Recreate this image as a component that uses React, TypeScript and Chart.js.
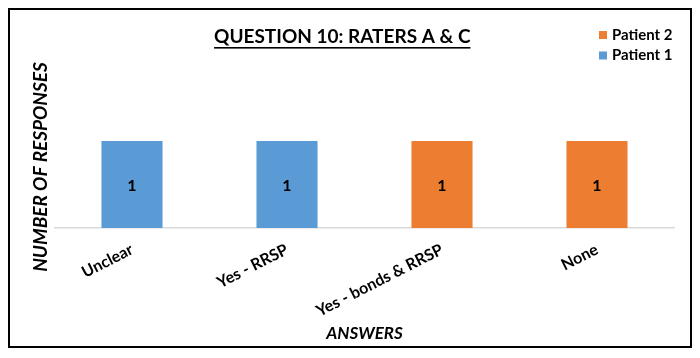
import React, { useEffect, useRef } from "react";
import { Chart, registerables } from "chart.js";

Chart.register(...registerables);

const categories = ["Unclear", "Yes - RRSP", "Yes - bonds & RRSP", "None"];
const patient1 = [1, 1, 0, 0];
const patient2 = [0, 0, 1, 1];
const seriesNames = ["Patient 1", "Patient 2"];
const seriesColors = ["#5B9BD5", "#ED7D31"];
const chartTitle = "QUESTION 10: RATERS A & C";
const xTitle = "ANSWERS";
const yTitle = "NUMBER OF RESPONSES";
const yMin = 0;
const yMax = 2;

const FONT = "Lato, 'Liberation Sans', sans-serif";

const extras = {
  id: "extras",
  afterDraw(chart: any) {
    const ctx = chart.ctx;
    ctx.save();
    // data labels
    ctx.font = `bold 16px ${FONT}`;
    ctx.fillStyle = "#000";
    ctx.textAlign = "center";
    ctx.textBaseline = "middle";
    chart.data.datasets.forEach((ds: any, i: number) => {
      const meta = chart.getDatasetMeta(i);
      meta.data.forEach((bar: any, j: number) => {
        const v = ds.data[j];
        if (!v) return;
        const { x, y, base } = bar.getProps(["x", "y", "base"], true);
        ctx.fillText(String(v), x, (y + base) / 2 + 1);
      });
    });
    // title underline
    const tb = chart.titleBlock;
    ctx.font = `bold 19px ${FONT}`;
    const w = ctx.measureText(chartTitle).width;
    const cx = (tb.left + tb.right) / 2;
    ctx.fillRect(cx - w / 2, 37, w, 1.6);
    // y axis title
    ctx.save();
    ctx.translate(31, 157);
    ctx.rotate(-Math.PI / 2);
    ctx.font = `italic bold 19px ${FONT}`;
    ctx.fillStyle = "#000";
    ctx.fillText(yTitle, 0, 0);
    ctx.restore();
    // legend (reversed order, vertical, top right)
    const order = [1, 0];
    ctx.font = `bold 15px ${FONT}`;
    ctx.textAlign = "left";
    ctx.textBaseline = "middle";
    order.forEach((di, k) => {
      const ds = chart.data.datasets[di];
      const yy = 25 + k * 20.5;
      ctx.fillStyle = ds.backgroundColor;
      ctx.fillRect(589, yy - 4, 8, 8);
      ctx.fillStyle = "#000";
      ctx.fillText(ds.label, 602, yy);
    });
    ctx.restore();
  },
};

export default function App() {
  const ref = useRef<HTMLCanvasElement | null>(null);
  useEffect(() => {
    if (!ref.current) return;
    const chart = new Chart(ref.current, {
      type: "bar",
      data: {
        labels: categories,
        datasets: [
          { label: seriesNames[0], data: patient1, backgroundColor: seriesColors[0] },
          { label: seriesNames[1], data: patient2, backgroundColor: seriesColors[1] },
        ],
      },
      options: {
        responsive: false,
        animation: false,
        layout: { padding: { left: 0, right: 15.5, top: 0, bottom: 0 } },
        datasets: { bar: { categoryPercentage: 1, barPercentage: 0.394 } },
        plugins: {
          legend: { display: false },
          tooltip: { enabled: false },
          title: {
            display: true,
            text: chartTitle,
            color: "#000",
            font: { family: FONT, size: 19, weight: "bold" },
            padding: { top: 15.1, bottom: 6.1 },
          },
        },
        scales: {
          x: {
            stacked: true,
            grid: { display: false, drawTicks: false },
            border: { display: true, color: "#d9d9d9", width: 1.5 },
            ticks: {
              color: "#000",
              font: { family: FONT, size: 16, weight: "bold" },
              minRotation: 27,
              maxRotation: 27,
              padding: 12,
            },
            title: {
              display: true,
              text: xTitle,
              color: "#000",
              font: { family: FONT, size: 17, weight: "bold", style: "italic" },
              padding: { top: 0, bottom: 2 },
            },
            afterFit(scale: any) {
              scale.height = 118;
            },
          },
          y: {
            stacked: true,
            min: yMin,
            max: yMax,
            ticks: { display: false },
            grid: { display: false },
            border: { display: false },
            afterFit(scale: any) {
              scale.width = 44.5;
            },
          },
        },
      },
      plugins: [extras],
    });
    return () => chart.destroy();
  }, []);
  return (
    <div style={{ width: 680, height: 336, border: "2px solid #000", background: "#fff" }}>
      <canvas ref={ref} width={680} height={336} style={{ display: "block" }} />
    </div>
  );
}
